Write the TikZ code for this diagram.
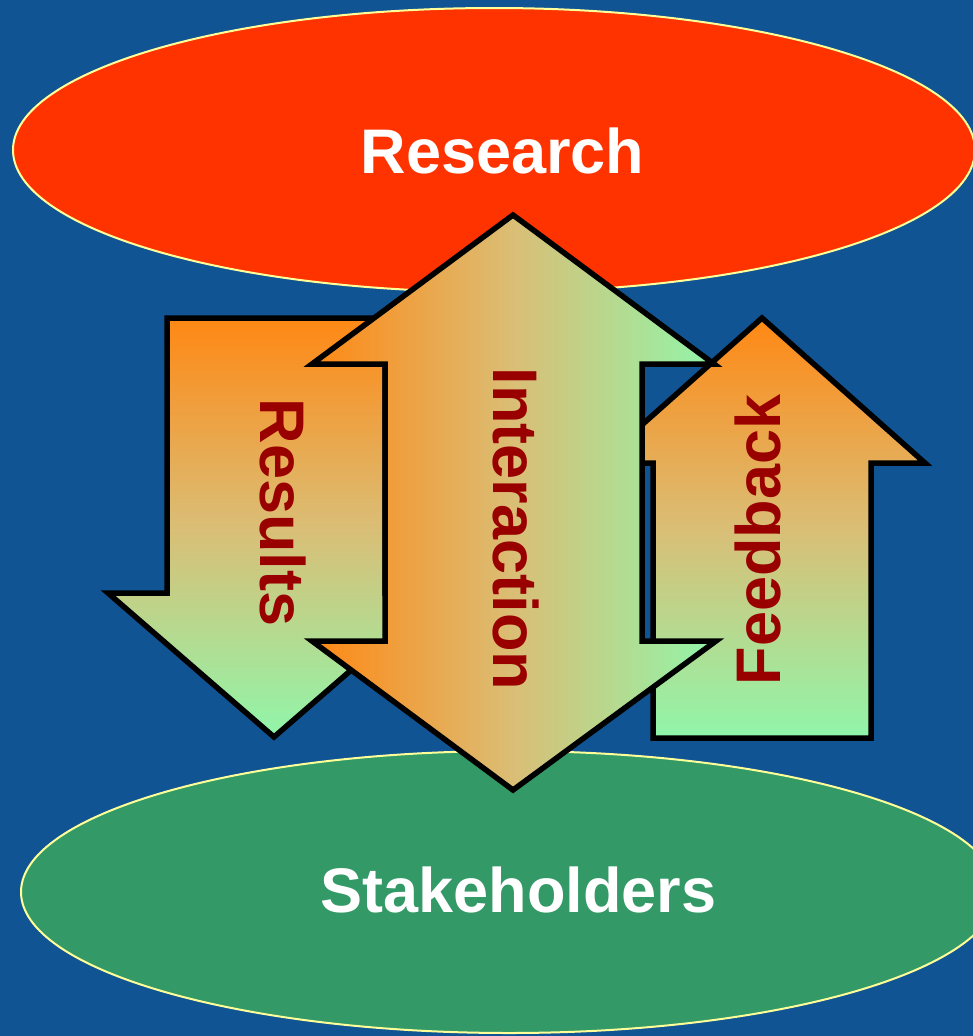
\documentclass[tikz,border=0pt]{standalone}
\usepackage{fontspec}
\setmainfont{Liberation Sans}
\definecolor{bgblue}{RGB}{16,84,148}
\definecolor{resred}{RGB}{255,51,0}
\definecolor{stkgreen}{RGB}{51,153,102}
\definecolor{rimyellow}{RGB}{255,255,153}
\definecolor{arrorange}{RGB}{255,136,20}
\definecolor{arrmid}{RGB}{218,190,118}
\definecolor{arrgreen}{RGB}{144,246,170}
\definecolor{txtred}{RGB}{153,0,0}
\tikzset{
  oval/.style={fill=#1, draw=rimyellow, line width=2},
  bigarrow/.style={draw=black, line width=5.5, line join=miter},
  vgrad/.style={bigarrow, top color=arrorange, bottom color=arrgreen, middle color=arrmid},
  hgrad/.style={bigarrow, left color=arrorange, right color=arrgreen, middle color=arrmid},
  ovaltext/.style={text=white, font=\fontsize{63}{70}\selectfont\bfseries, inner sep=0pt},
  arrtext/.style={text=txtred, font=\fontsize{63}{70}\selectfont\bfseries, inner sep=0pt}
}
\begin{document}
\begin{tikzpicture}[x=1pt, y=-1pt]
\useasboundingbox (0,0) rectangle (973,1036);
\clip (0,0) rectangle (973,1036);
\fill[bgblue] (0,0) rectangle (973,1036);
% ellipses
\path[oval=resred] (494,150) ellipse [x radius=481, y radius=142];
\path[oval=stkgreen] (509,892) ellipse [x radius=488, y radius=141];
% Results arrow (down)
\shadedraw[vgrad] (167,318) -- (385,318) -- (385,593) -- (440,593) -- (274,737)
  -- (108,593) -- (167,593) -- cycle;
% Feedback arrow (up)
\shadedraw[vgrad] (762,318) -- (925,463) -- (871,463) -- (871,738) -- (653,738)
  -- (653,463) -- (599,463) -- cycle;
% Interaction double arrow
\shadedraw[hgrad] (513,215) -- (714,364) -- (642,364) -- (642,641) -- (716,641)
  -- (513,790) -- (312,641) -- (385,641) -- (385,364) -- (312,364) -- cycle;
% texts
\node[ovaltext, anchor=base] (research) at (502.5,173) {Research};
\node[ovaltext, anchor=base] (stake) at (518.5,912) {Stakeholders};
\node[arrtext, anchor=base, rotate=-90] (results) at (260,512.5) {Results};
\node[arrtext, anchor=base, rotate=-90] (interaction) at (493,529) {Interaction};
\node[arrtext, anchor=base, rotate=90] (feedback) at (780,540) {Feedback};
\end{tikzpicture}
\end{document}
